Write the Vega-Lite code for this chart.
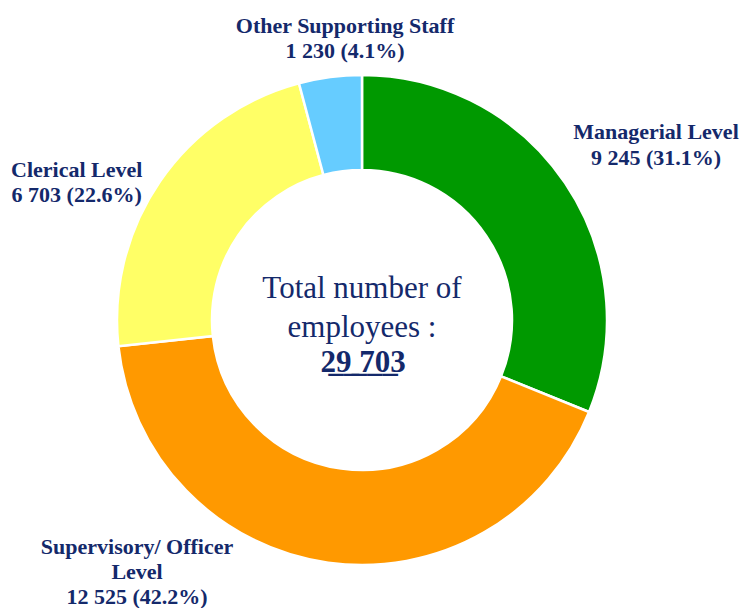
{
  "$schema": "https://vega.github.io/schema/vega-lite/v6.json",
  "width": 724,
  "height": 576,
  "autosize": {"type": "none"},
  "padding": {"left": 0, "right": 17, "top": 32, "bottom": 0},
  "background": "white",
  "config": {"view": {"stroke": null}},
  "data": {
    "values": [
      {"category": "Managerial Level", "value": 9245, "order": 1, "label": "Managerial Level\n9 245 (31.1%)"},
      {"category": "Supervisory/ Officer Level", "value": 12525, "order": 2, "label": "Supervisory/ Officer\nLevel\n12 525 (42.2%)"},
      {"category": "Clerical Level", "value": 6703, "order": 3, "label": "Clerical Level\n6 703 (22.6%)"},
      {"category": "Other Supporting Staff", "value": 1230, "order": 4, "label": "Other Supporting Staff\n1 230 (4.1%)"}
    ]
  },
  "layer": [
    {
      "mark": {"type": "arc", "innerRadius": 150, "outerRadius": 245, "stroke": "white", "strokeWidth": 2.5},
      "encoding": {
        "theta": {"field": "value", "type": "quantitative", "stack": true},
        "order": {"field": "order", "type": "quantitative"},
        "color": {
          "field": "category", "type": "nominal", "legend": null,
          "scale": {
            "domain": ["Managerial Level", "Supervisory/ Officer Level", "Clerical Level", "Other Supporting Staff"],
            "range": ["#009900", "#FF9900", "#FFFF66", "#66CCFF"]
          }
        }
      }
    },
    {
      "mark": {"type": "text", "radius": 340, "dx": 12, "dy": 2, "font": "Liberation Serif", "fontWeight": "bold", "fontSize": 22, "color": "#14296B", "align": "center", "baseline": "middle", "lineBreak": "\n", "lineHeight": 26},
      "encoding": {
        "theta": {"field": "value", "type": "quantitative", "stack": true},
        "order": {"field": "order", "type": "quantitative"},
        "text": {"condition": {"test": "datum.category === 'Managerial Level'", "field": "label"}, "value": ""}
      }
    },
    {
      "mark": {"type": "text", "radius": 260, "dx": -189, "dy": -31, "font": "Liberation Serif", "fontWeight": "bold", "fontSize": 22, "color": "#14296B", "align": "center", "baseline": "middle", "lineBreak": "\n", "lineHeight": 25},
      "encoding": {
        "theta": {"field": "value", "type": "quantitative", "stack": true},
        "order": {"field": "order", "type": "quantitative"},
        "text": {"condition": {"test": "datum.category === 'Supervisory/ Officer Level'", "field": "label"}, "value": ""}
      }
    },
    {
      "mark": {"type": "text", "radius": 300, "dx": -38, "dy": 20, "font": "Liberation Serif", "fontWeight": "bold", "fontSize": 22, "color": "#14296B", "align": "center", "baseline": "middle", "lineBreak": "\n", "lineHeight": 25},
      "encoding": {
        "theta": {"field": "value", "type": "quantitative", "stack": true},
        "order": {"field": "order", "type": "quantitative"},
        "text": {"condition": {"test": "datum.category === 'Clerical Level'", "field": "label"}, "value": ""}
      }
    },
    {
      "mark": {"type": "text", "radius": 285, "dx": 20, "dy": -11, "font": "Liberation Serif", "fontWeight": "bold", "fontSize": 22, "color": "#14296B", "align": "center", "baseline": "middle", "lineBreak": "\n", "lineHeight": 25},
      "encoding": {
        "theta": {"field": "value", "type": "quantitative", "stack": true},
        "order": {"field": "order", "type": "quantitative"},
        "text": {"condition": {"test": "datum.category === 'Other Supporting Staff'", "field": "label"}, "value": ""}
      }
    },
    {
      "data": {"values": [{}]},
      "mark": {"type": "text", "text": "Total number of", "font": "Liberation Serif", "fontSize": 31, "color": "#14296B", "align": "center", "baseline": "alphabetic", "dy": -22},
      "encoding": {}
    },
    {
      "data": {"values": [{}]},
      "mark": {"type": "text", "text": "employees :", "font": "Liberation Serif", "fontSize": 31, "color": "#14296B", "align": "center", "baseline": "alphabetic", "dy": 17},
      "encoding": {}
    },
    {
      "data": {"values": [{}]},
      "mark": {"type": "text", "text": "2̲9̲ ̲7̲0̲3", "font": "Liberation Serif", "fontSize": 31, "fontWeight": "bold", "color": "#14296B", "align": "center", "baseline": "alphabetic", "dx": 1, "dy": 52},
      "encoding": {}
    }
  ]
}
